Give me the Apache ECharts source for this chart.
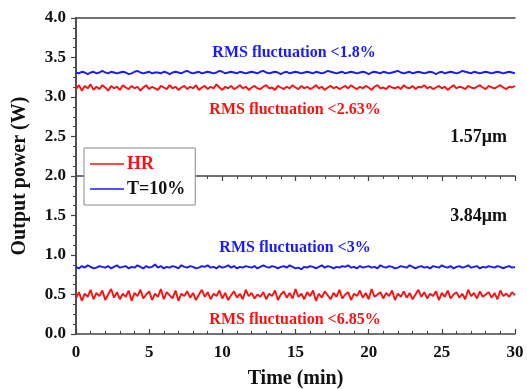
<!DOCTYPE html>
<html><head><meta charset="utf-8">
<script src="https://cdn.jsdelivr.net/npm/echarts@6/dist/echarts.min.js"></script>
<style>html,body{margin:0;padding:0;background:#fff}#c{width:527px;height:389px}</style>
</head><body><div id="c"></div>
<script>
const STEP = 0.2; // min between samples, 0..30
const hrTop = [3.10,3.15,3.08,3.14,3.11,3.16,3.09,3.13,3.10,3.15,3.12,3.08,3.14,3.11,3.13,3.09,3.15,3.12,3.10,3.14,
3.11,3.13,3.08,3.12,3.15,3.10,3.13,3.11,3.09,3.14,3.12,3.10,3.15,3.11,3.13,3.09,3.12,3.14,3.10,3.13,
3.11,3.15,3.09,3.12,3.14,3.10,3.13,3.11,3.16,3.12,3.09,3.13,3.11,3.14,3.10,3.12,3.15,3.11,3.13,3.09,
3.12,3.14,3.11,3.10,3.13,3.15,3.11,3.12,3.09,3.14,3.12,3.10,3.13,3.11,3.15,3.12,3.10,3.14,3.11,3.13,
3.10,3.12,3.15,3.11,3.13,3.09,3.12,3.14,3.11,3.13,3.10,3.12,3.14,3.11,3.15,3.12,3.10,3.13,3.11,3.14,
3.12,3.09,3.13,3.15,3.11,3.12,3.10,3.14,3.12,3.11,3.13,3.10,3.15,3.12,3.11,3.14,3.10,3.13,3.12,3.15,
3.11,3.13,3.10,3.12,3.14,3.11,3.13,3.09,3.12,3.15,3.11,3.13,3.12,3.10,3.14,3.12,3.11,3.13,3.15,3.12,
3.10,3.14,3.12,3.11,3.13,3.15,3.12,3.10,3.13,3.12,3.14];
const tTop = [3.31,3.30,3.32,3.31,3.29,3.31,3.32,3.30,3.31,3.33,3.31,3.30,3.32,3.31,3.30,3.31,3.32,3.31,3.29,3.30,
3.32,3.33,3.31,3.30,3.31,3.32,3.30,3.31,3.31,3.30,3.32,3.31,3.29,3.31,3.32,3.31,3.30,3.32,3.33,3.31,
3.30,3.31,3.32,3.30,3.31,3.32,3.31,3.30,3.31,3.33,3.32,3.30,3.31,3.32,3.31,3.30,3.32,3.31,3.30,3.31,
3.32,3.31,3.30,3.32,3.33,3.31,3.30,3.31,3.32,3.31,3.29,3.31,3.32,3.30,3.31,3.32,3.31,3.30,3.31,3.32,
3.31,3.30,3.32,3.31,3.30,3.31,3.33,3.32,3.31,3.30,3.31,3.32,3.30,3.31,3.32,3.31,3.30,3.31,3.32,3.31,
3.29,3.31,3.32,3.31,3.30,3.32,3.31,3.30,3.31,3.32,3.33,3.31,3.30,3.31,3.32,3.30,3.31,3.32,3.31,3.30,
3.31,3.32,3.31,3.29,3.31,3.32,3.30,3.31,3.32,3.31,3.30,3.31,3.33,3.32,3.31,3.30,3.32,3.31,3.30,3.31,
3.32,3.31,3.30,3.31,3.32,3.31,3.30,3.31,3.32,3.31,3.30];
const tBot = [0.85,0.83,0.86,0.84,0.87,0.85,0.83,0.84,0.86,0.85,0.84,0.86,0.83,0.85,0.87,0.84,0.85,0.86,0.83,0.85,
0.84,0.87,0.85,0.83,0.86,0.84,0.85,0.88,0.84,0.86,0.83,0.85,0.84,0.86,0.85,0.83,0.87,0.85,0.84,0.86,
0.85,0.83,0.84,0.86,0.85,0.87,0.84,0.85,0.83,0.86,0.84,0.85,0.87,0.84,0.86,0.83,0.85,0.84,0.86,0.85,
0.84,0.86,0.83,0.85,0.87,0.85,0.84,0.86,0.85,0.83,0.85,0.86,0.84,0.87,0.85,0.83,0.84,0.82,0.85,0.84,
0.86,0.85,0.83,0.85,0.87,0.84,0.86,0.85,0.83,0.85,0.84,0.86,0.85,0.87,0.84,0.85,0.83,0.86,0.84,0.85,
0.86,0.84,0.85,0.83,0.87,0.85,0.84,0.86,0.85,0.83,0.84,0.86,0.85,0.84,0.87,0.85,0.83,0.85,0.86,0.84,
0.85,0.83,0.86,0.85,0.84,0.87,0.85,0.84,0.86,0.83,0.85,0.86,0.84,0.85,0.87,0.84,0.85,0.86,0.83,0.85,
0.84,0.86,0.85,0.84,0.86,0.85,0.83,0.85,0.86,0.84,0.85];
const hrBot = [0.45,0.53,0.42,0.51,0.47,0.56,0.44,0.52,0.48,0.55,0.43,0.50,0.57,0.46,0.53,0.44,0.51,0.47,0.55,0.42,
0.52,0.48,0.56,0.45,0.50,0.54,0.43,0.51,0.47,0.57,0.44,0.53,0.49,0.45,0.55,0.42,0.51,0.48,0.54,0.46,
0.52,0.43,0.50,0.56,0.47,0.53,0.44,0.51,0.48,0.55,0.45,0.52,0.43,0.49,0.54,0.46,0.51,0.44,0.56,0.48,
0.52,0.45,0.50,0.47,0.53,0.44,0.51,0.48,0.55,0.43,0.50,0.54,0.46,0.52,0.45,0.57,0.47,0.51,0.44,0.53,
0.48,0.55,0.42,0.51,0.46,0.54,0.49,0.44,0.52,0.47,0.56,0.45,0.50,0.53,0.43,0.51,0.48,0.55,0.46,0.52,
0.44,0.57,0.47,0.50,0.53,0.45,0.52,0.48,0.55,0.43,0.51,0.47,0.54,0.46,0.52,0.44,0.50,0.56,0.47,0.53,
0.45,0.51,0.48,0.54,0.43,0.52,0.47,0.55,0.45,0.50,0.53,0.46,0.51,0.44,0.56,0.48,0.52,0.45,0.54,0.47,
0.50,0.53,0.46,0.52,0.44,0.55,0.48,0.51,0.47,0.53,0.49];
const seriesNames = ['HR', 'T=10%'];
const xTicks = [0, 5, 10, 15, 20, 25, 30];
const yTicks = [0, 0.5, 1, 1.5, 2, 2.5, 3, 3.5, 4];

const pairs = arr => arr.map((v, i) => [+(i * STEP).toFixed(2), v]);
const FONT = '"Liberation Serif", "Times New Roman", serif';
const RED = '#ff1010', BLUE = '#1a1aff', AX = '#444';

const chart = echarts.init(document.getElementById('c'));
const lineStyleR = { color: RED, width: 1.9 };
const lineStyleB = { color: BLUE, width: 1.9 };
const ann = (x, y, text, fill, align, size) => ({
  type: 'text', x, y, z: 20,
  style: { text, fill, font: 'bold ' + (size || 16) + 'px ' + FONT, textAlign: align || 'center', textVerticalAlign: 'middle' }
});
chart.setOption({
  animation: false,
  backgroundColor: '#fff',
  grid: { left: 76, right: 12, top: 18, bottom: 55, show: false, containLabel: false, outerBoundsMode: 'none' },
  xAxis: [{
    type: 'value', min: xTicks[0], max: xTicks[xTicks.length - 1], interval: 5,
    name: 'Time (min)', nameLocation: 'middle', nameGap: 35,
    nameTextStyle: { fontFamily: FONT, fontWeight: 'bold', fontSize: 20, color: '#111' },
    axisLine: { show: true, lineStyle: { color: AX, width: 1.5 } },
    axisTick: { show: true, inside: true, length: 5, lineStyle: { color: AX, width: 1.2 } },
    minorTick: { show: true, splitNumber: 5, length: 3, lineStyle: { color: AX } },
    axisLabel: { fontFamily: FONT, fontWeight: 'bold', fontSize: 17, color: '#111', margin: 10 },
    splitLine: { show: false }
  }, {
    type: 'value', min: 0, max: 30, interval: 5, position: 'bottom', offset: -158,
    axisLine: { show: true, lineStyle: { color: AX, width: 1.5 } },
    axisTick: { show: true, inside: false, length: 5, lineStyle: { color: AX, width: 1.2 } },
    minorTick: { show: true, splitNumber: 5, length: 3, lineStyle: { color: AX } },
    axisLabel: { show: false }, splitLine: { show: false }
  }, {
    type: 'value', min: 0, max: 30, position: 'top',
    axisLine: { show: true, lineStyle: { color: AX, width: 1.5 } },
    axisTick: { show: false }, axisLabel: { show: false }, splitLine: { show: false }
  }],
  yAxis: [{
    type: 'value', min: yTicks[0], max: yTicks[yTicks.length - 1], interval: 0.5,
    name: 'Output power (W)', nameLocation: 'middle', nameGap: 46,
    nameTextStyle: { fontFamily: FONT, fontWeight: 'bold', fontSize: 20, color: '#111' },
    axisLine: { show: true, lineStyle: { color: AX, width: 1.5 } },
    axisTick: { show: true, inside: false, length: 5, lineStyle: { color: AX, width: 1.2 } },
    minorTick: { show: true, splitNumber: 4, length: 3, lineStyle: { color: AX } },
    axisLabel: { fontFamily: FONT, fontWeight: 'bold', fontSize: 17, color: '#111', margin: 10,
      formatter: v => v.toFixed(1) },
    splitLine: { show: false }
  }, {
    type: 'value', min: 0, max: 4, position: 'right',
    axisLine: { show: true, lineStyle: { color: AX, width: 1.5 } },
    axisTick: { show: false }, axisLabel: { show: false }, splitLine: { show: false }
  }],
  legend: {
    show: true, orient: 'vertical', left: 84, top: 148,
    backgroundColor: '#fff', borderColor: '#888', borderWidth: 1, borderRadius: 0,
    padding: [7, 10, 7, 6], itemGap: 7, itemWidth: 34, itemHeight: 18, z: 10,
    textStyle: { fontFamily: FONT, fontWeight: 'bold', fontSize: 18, padding: [0, 0, 0, -2] },
    data: [
      { name: seriesNames[0], icon: 'path://M0,8L34,8L34,9.6L0,9.6Z', itemStyle: { color: RED }, textStyle: { color: RED } },
      { name: seriesNames[1], icon: 'path://M0,8L34,8L34,9.6L0,9.6Z', itemStyle: { color: BLUE }, textStyle: { color: '#111' } }
    ]
  },
  series: [
    { name: seriesNames[0], type: 'line', data: pairs(hrTop), symbol: 'none', lineStyle: lineStyleR, itemStyle: { color: RED } },
    { name: seriesNames[1], type: 'line', data: pairs(tTop), symbol: 'none', lineStyle: lineStyleB, itemStyle: { color: BLUE } },
    { name: seriesNames[0], type: 'line', data: pairs(hrBot), symbol: 'none', lineStyle: lineStyleR, itemStyle: { color: RED } },
    { name: seriesNames[1], type: 'line', data: pairs(tBot), symbol: 'none', lineStyle: lineStyleB, itemStyle: { color: BLUE } }
  ],
  graphic: [
    ann(294, 53, 'RMS fluctuation <1.8%', BLUE),
    ann(295, 110, 'RMS fluctuation <2.63%', RED),
    ann(507, 137, '1.57μm', '#111', 'right', 18),
    ann(507, 216, '3.84μm', '#111', 'right', 18),
    ann(295, 248, 'RMS fluctuation <3%', BLUE),
    ann(295, 320, 'RMS fluctuation <6.85%', RED)
  ]
});
</script>
</body></html>
